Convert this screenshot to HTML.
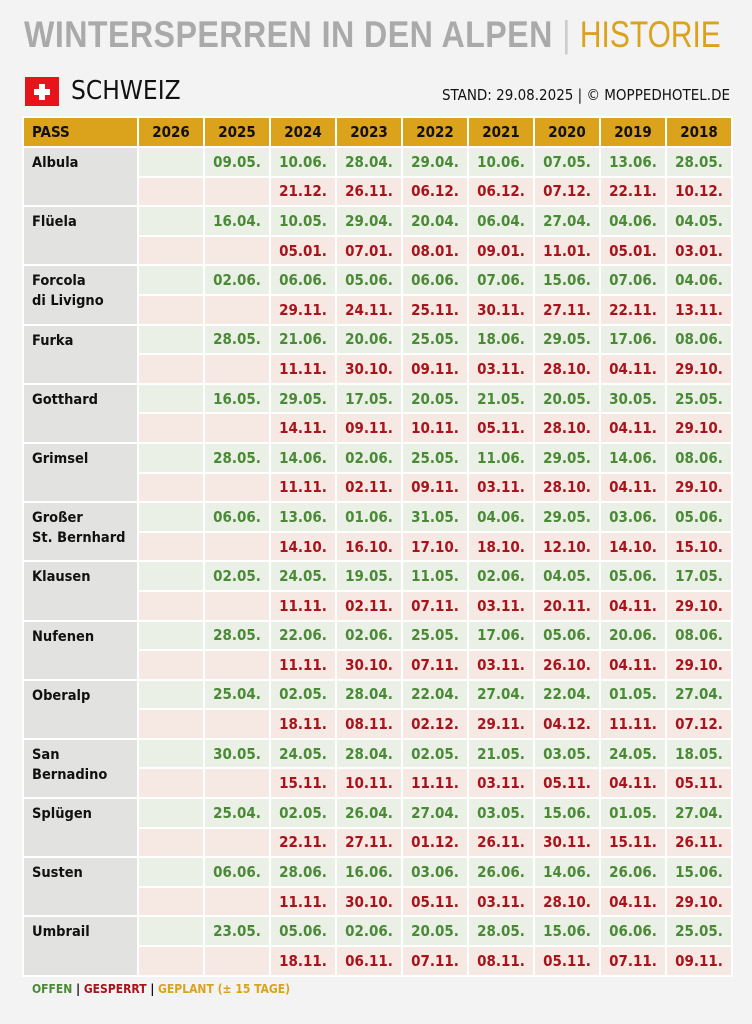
<!DOCTYPE html><html><head><meta charset="utf-8"><style>
body{margin:0;width:752px;height:1024px;background:#f3f3f3;font-family:"DejaVu Sans Condensed","Liberation Sans",sans-serif;position:relative;overflow:hidden}
.t{position:absolute;left:24px;top:14px;font:bold 37px "Liberation Sans",sans-serif;color:#aaa;letter-spacing:0.5px;white-space:nowrap;transform:scaleX(0.87);transform-origin:left}
.t span{color:#dba21c;font-weight:normal;letter-spacing:0}
.flag{position:absolute;left:25px;top:77px;width:34px;height:29px;background:#e8141c}
.flag:before{content:"";position:absolute;left:14px;top:7px;width:6px;height:16px;background:#fff}
.flag:after{content:"";position:absolute;left:9px;top:12px;width:16px;height:6px;background:#fff}
.ch{position:absolute;left:71px;top:76px;font-size:26px;color:#111}
.st{position:absolute;right:22px;top:86px;font-size:15px;color:#111}
.g{position:absolute;left:22px;top:116px;width:711px;display:grid;grid-template-columns:113px repeat(9,64px);grid-template-rows:28px repeat(28,27.6px);gap:2px;padding:2px;box-sizing:border-box;background:#fff;font-weight:bold;font-size:15px}
.g div{display:flex;align-items:center;justify-content:center}
.h{background:#dba21c;color:#111}
.h.p{justify-content:flex-start!important;padding-left:8px}
.n{grid-row:span 2;background:#e2e2e0;color:#111;align-items:flex-start!important;justify-content:flex-start!important;padding:5px 0 0 8px;line-height:20px;font-size:14.5px}
.o{background:#ebf0e6;color:#4a8a36}
.c{background:#f6e8e3;color:#a8141c}
.lg{position:absolute;left:32px;top:982px;font-size:12px;font-weight:bold}
</style></head><body>
<div class="t">WINTERSPERREN IN DEN ALPEN <span style="color:#ccc">|</span> <span style="display:inline-block;transform:scaleX(0.93);transform-origin:left">HISTORIE</span></div>
<div class="flag"></div><div class="ch">SCHWEIZ</div>
<div class="st">STAND: 29.08.2025 | © MOPPEDHOTEL.DE</div>
<div class="g" id="g"></div>
<div class="lg"><span style="color:#4a8a36">OFFEN</span> | <span style="color:#a8141c">GESPERRT</span> | <span style="color:#dba21c">GEPLANT (± 15 TAGE)</span></div>
<script>
var d=[
["Albula","","09.05.","10.06.","28.04.","29.04.","10.06.","07.05.","13.06.","28.05.","21.12.","26.11.","06.12.","06.12.","07.12.","22.11.","10.12."],
["Flüela","","16.04.","10.05.","29.04.","20.04.","06.04.","27.04.","04.06.","04.05.","05.01.","07.01.","08.01.","09.01.","11.01.","05.01.","03.01."],
["Forcola<br>di Livigno","","02.06.","06.06.","05.06.","06.06.","07.06.","15.06.","07.06.","04.06.","29.11.","24.11.","25.11.","30.11.","27.11.","22.11.","13.11."],
["Furka","","28.05.","21.06.","20.06.","25.05.","18.06.","29.05.","17.06.","08.06.","11.11.","30.10.","09.11.","03.11.","28.10.","04.11.","29.10."],
["Gotthard","","16.05.","29.05.","17.05.","20.05.","21.05.","20.05.","30.05.","25.05.","14.11.","09.11.","10.11.","05.11.","28.10.","04.11.","29.10."],
["Grimsel","","28.05.","14.06.","02.06.","25.05.","11.06.","29.05.","14.06.","08.06.","11.11.","02.11.","09.11.","03.11.","28.10.","04.11.","29.10."],
["Großer<br>St. Bernhard","","06.06.","13.06.","01.06.","31.05.","04.06.","29.05.","03.06.","05.06.","14.10.","16.10.","17.10.","18.10.","12.10.","14.10.","15.10."],
["Klausen","","02.05.","24.05.","19.05.","11.05.","02.06.","04.05.","05.06.","17.05.","11.11.","02.11.","07.11.","03.11.","20.11.","04.11.","29.10."],
["Nufenen","","28.05.","22.06.","02.06.","25.05.","17.06.","05.06.","20.06.","08.06.","11.11.","30.10.","07.11.","03.11.","26.10.","04.11.","29.10."],
["Oberalp","","25.04.","02.05.","28.04.","22.04.","27.04.","22.04.","01.05.","27.04.","18.11.","08.11.","02.12.","29.11.","04.12.","11.11.","07.12."],
["San<br>Bernadino","","30.05.","24.05.","28.04.","02.05.","21.05.","03.05.","24.05.","18.05.","15.11.","10.11.","11.11.","03.11.","05.11.","04.11.","05.11."],
["Splügen","","25.04.","02.05.","26.04.","27.04.","03.05.","15.06.","01.05.","27.04.","22.11.","27.11.","01.12.","26.11.","30.11.","15.11.","26.11."],
["Susten","","06.06.","28.06.","16.06.","03.06.","26.06.","14.06.","26.06.","15.06.","11.11.","30.10.","05.11.","03.11.","28.10.","04.11.","29.10."],
["Umbrail","","23.05.","05.06.","02.06.","20.05.","28.05.","15.06.","06.06.","25.05.","18.11.","06.11.","07.11.","08.11.","05.11.","07.11.","09.11."]];
var h='<div class="h p">PASS</div>';["2026","2025","2024","2023","2022","2021","2020","2019","2018"].forEach(y=>h+='<div class="h">'+y+'</div>');
d.forEach(r=>{h+='<div class="n">'+r[0]+'</div>';for(var i=1;i<10;i++)h+='<div class="o">'+r[i]+'</div>';h+='<div class="c"></div><div class="c"></div>';for(var i=10;i<17;i++)h+='<div class="c">'+r[i]+'</div>';});
document.getElementById('g').innerHTML=h;
</script>
</body></html>
